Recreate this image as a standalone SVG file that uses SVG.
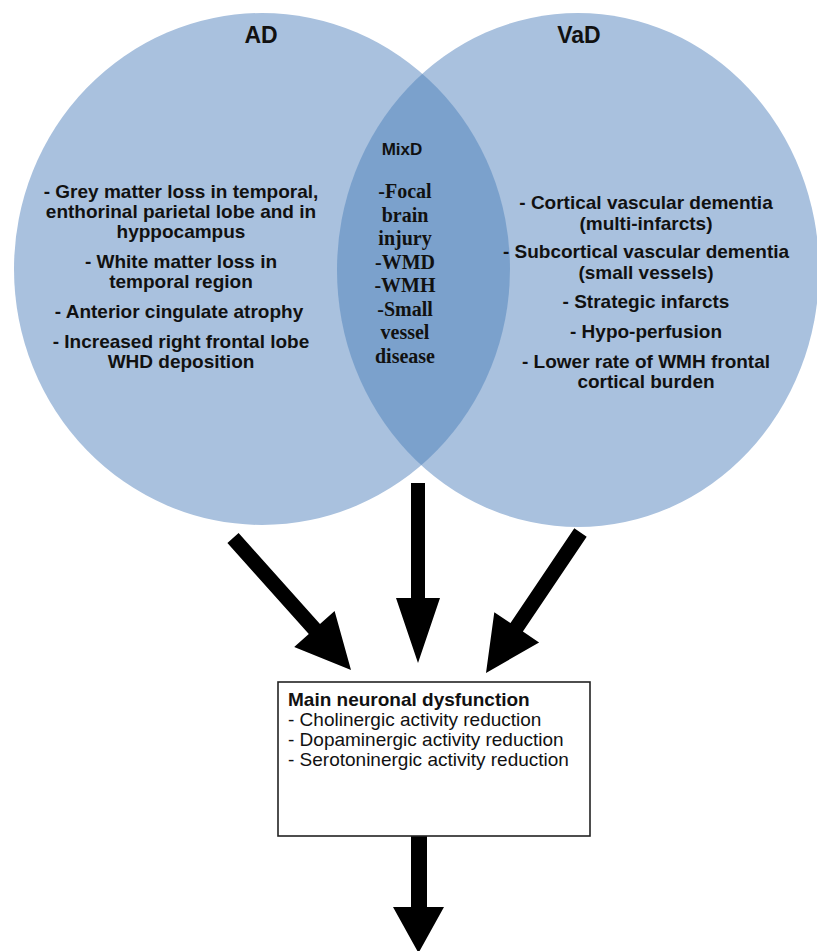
<svg xmlns="http://www.w3.org/2000/svg" width="817" height="951" viewBox="0 0 817 951">
<style>
.circ{fill:#A9C1DE}
.lens{fill:#7BA1CC}
.t{font-family:"Liberation Sans",Arial,sans-serif;fill:#111;text-anchor:middle}
.b{font-weight:bold}
.title{font-size:23px}
.item{font-size:19px}
.mix{font-size:17px}
.serif{font-family:"Liberation Serif","Times New Roman",serif;font-weight:bold;font-size:20px;fill:#111;text-anchor:middle}
.box{fill:#fff;stroke:#222;stroke-width:1.6}
.bt{font-family:"Liberation Sans",Arial,sans-serif;font-size:19px;fill:#111}
.arrow{fill:#000}
</style>
<defs>
<clipPath id="clipLeft"><ellipse cx="262" cy="269" rx="248" ry="256"/></clipPath>
</defs>
<rect width="817" height="951" fill="#fff"/>
<g id="ad">
<ellipse class="circ" cx="262" cy="269" rx="248" ry="256"/>
</g>
<g id="vad">
<ellipse class="circ" cx="578" cy="270" rx="241" ry="257"/>
</g>
<g id="mixd">
<ellipse class="lens" cx="578" cy="270" rx="241" ry="257" clip-path="url(#clipLeft)"/>
<text class="t b mix" x="402" y="155">MixD</text>
<text class="serif" x="405" y="198">-Focal</text>
<text class="serif" x="405" y="221.5">brain</text>
<text class="serif" x="405" y="245">injury</text>
<text class="serif" x="405" y="268.5">-WMD</text>
<text class="serif" x="405" y="292">-WMH</text>
<text class="serif" x="405" y="315.5">-Small</text>
<text class="serif" x="405" y="339">vessel</text>
<text class="serif" x="405" y="362.5">disease</text>
</g>
<g id="ad-text">
<text class="t b title" x="261" y="43">AD</text>
<text class="t b item" x="181" y="198">- Grey matter loss in temporal,</text>
<text class="t b item" x="181" y="218">enthorinal parietal lobe and in</text>
<text class="t b item" x="181" y="238">hyppocampus</text>
<text class="t b item" x="181" y="268">- White matter loss in</text>
<text class="t b item" x="181" y="288">temporal region</text>
<text class="t b item" x="179" y="318">- Anterior cingulate atrophy</text>
<text class="t b item" x="181" y="348">- Increased right frontal lobe</text>
<text class="t b item" x="181" y="368">WHD deposition</text>
</g>
<g id="vad-text">
<text class="t b title" x="579" y="43">VaD</text>
<text class="t b item" x="646" y="209">- Cortical vascular dementia</text>
<text class="t b item" x="646" y="230">(multi-infarcts)</text>
<text class="t b item" x="646" y="258">- Subcortical vascular dementia</text>
<text class="t b item" x="646" y="279">(small vessels)</text>
<text class="t b item" x="646" y="308">- Strategic infarcts</text>
<text class="t b item" x="646" y="338">- Hypo-perfusion</text>
<text class="t b item" x="646" y="368">- Lower rate of WMH frontal</text>
<text class="t b item" x="646" y="388">cortical burden</text>
</g>
<g id="connectors">
<polygon class="arrow" points="227.4,543 308.8,633.9 294.2,646.9 351,670 334.6,610.9 320,623.9 238.6,533"/>
<polygon class="arrow" points="411,483 411,598 396,598 418,663 440,598 425,598 425,483"/>
<polygon class="arrow" points="574.3,528.3 510.5,623.1 494.3,612.2 486,673 539.1,642.4 522.9,631.5 586.7,536.7"/>
<polygon class="arrow" points="411,836 411,907 393,907 418.5,953 444,907 427,907 427,836"/>
</g>
<g id="neuronal-box">
<rect class="box" x="278" y="682" width="312" height="154"/>
<text class="bt" x="288" y="706" font-weight="bold">Main neuronal dysfunction</text>
<text class="bt" x="288" y="726">- Cholinergic activity reduction</text>
<text class="bt" x="288" y="746">- Dopaminergic activity reduction</text>
<text class="bt" x="288" y="766">- Serotoninergic activity reduction</text>
</g>
</svg>
